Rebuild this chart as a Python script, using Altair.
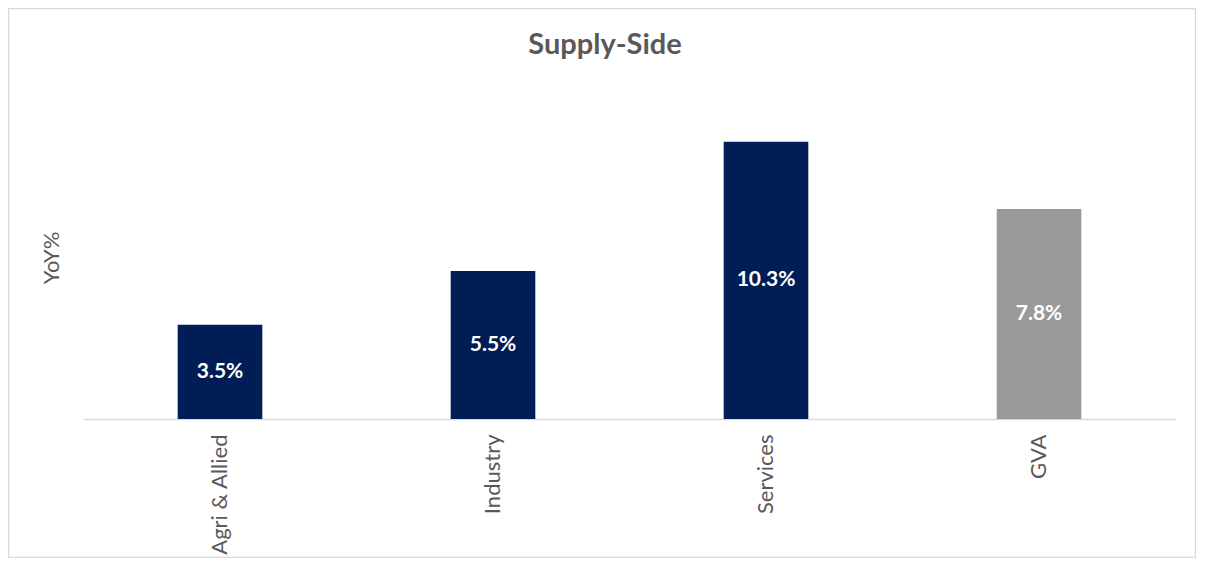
import altair as alt
import pandas as pd

categories = ["Agri & Allied", "Industry", "Services", "GVA"]
values = [3.5, 5.5, 10.3, 7.8]
bar_colors = ["#001D55", "#001D55", "#001D55", "#999999"]
chart_title = "Supply-Side"
y_title = "YoY%"

df = pd.DataFrame({"cat": categories, "val": values, "col": bar_colors})

FONT = "Lato"
GREY = "#595959"

base = alt.Chart(df).encode(
    x=alt.X(
        "cat:N",
        sort=categories,
        scale=alt.Scale(paddingInner=0.69, paddingOuter=0.345),
        axis=alt.Axis(
            title=None,
            labelAngle=-90,
            labelFont=FONT,
            labelFontSize=22,
            labelColor=GREY,
            labelPadding=15,
            ticks=False,
            domainColor="#d9d9d9",
            domainWidth=1.5,
            labelLimit=300,
        ),
    )
)

bars = base.mark_bar().encode(
    y=alt.Y(
        "val:Q",
        scale=alt.Scale(domain=[0, 12], nice=False, zero=True),
        axis=alt.Axis(
            title=y_title,
            labels=False,
            ticks=False,
            domain=False,
            grid=False,
            titleFont=FONT,
            titleFontSize=22,
            titleFontWeight="normal",
            titleColor=GREY,
            titlePadding=20,
        ),
    ),
    color=alt.Color("col:N", scale=None, legend=None),
)

labels = base.transform_calculate(
    mid="datum.val / 2", lab="format(datum.val, '.1f') + '%'"
).mark_text(
    color="white", font=FONT, fontSize=21, fontWeight="bold", baseline="middle"
).encode(y=alt.Y("mid:Q"), text="lab:N")

title_df = pd.DataFrame({"t": [chart_title]})
title = alt.Chart(title_df).mark_text(
    font=FONT, fontSize=29, fontWeight="bold", color=GREY, baseline="alphabetic", align="center"
).encode(text="t:N", x=alt.value(521.5), y=alt.value(-42))

border_df = pd.DataFrame({"b": [1]})
border = alt.Chart(border_df).mark_rect(
    fill="transparent", stroke="#d9d9d9", strokeWidth=1.5
).encode(x=alt.value(-75), x2=alt.value(1112), y=alt.value(-87.5), y2=alt.value(461.5))

chart = alt.layer(border, bars, labels, title).properties(
    width=1092, height=323,
    background="white",
    autosize=alt.AutoSizeParams(type="none"),
    padding={"left": 75.5, "top": 88, "right": 20.5, "bottom": 139},
).configure_view(strokeWidth=0, stroke="transparent")

chart.save("out.html", embed_options={"renderer": "svg", "actions": False})
